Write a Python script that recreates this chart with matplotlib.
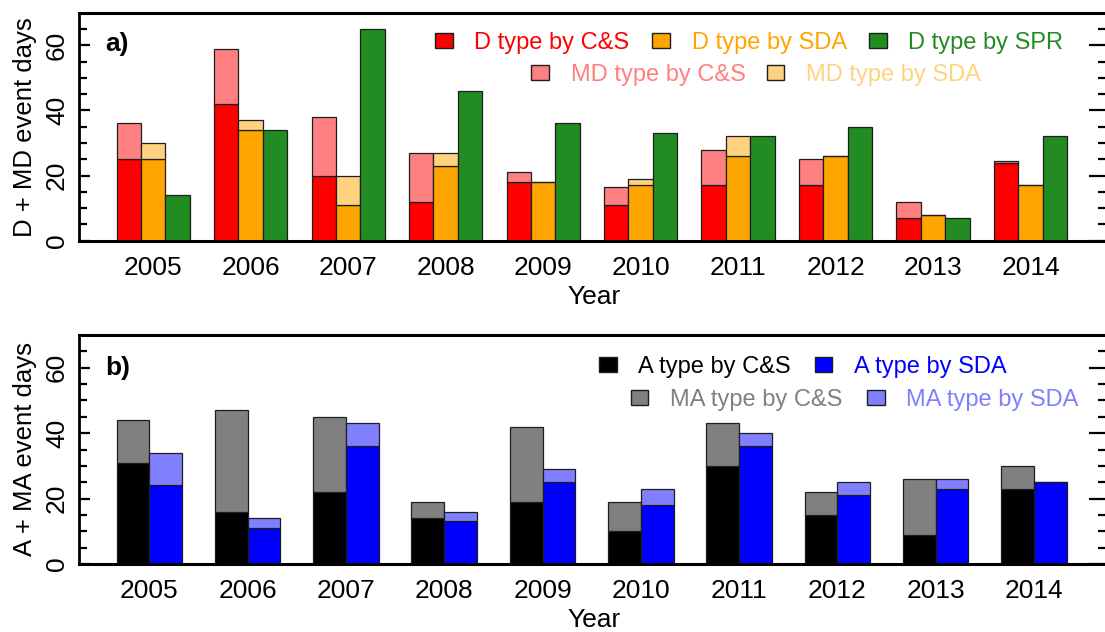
import matplotlib
matplotlib.use('Agg')
import matplotlib.pyplot as plt
from matplotlib.patches import Rectangle
from matplotlib.ticker import FixedLocator
import numpy as np

plt.rcParams['font.family'] = ['Liberation Sans', 'DejaVu Sans']

# ---------------- data ----------------
years = ['2005', '2006', '2007', '2008', '2009', '2010', '2011', '2012', '2013', '2014']

# panel a: D-type and MD-type event days
D_CS = [25, 42, 20, 12, 18, 11, 17, 17, 7, 24]
MD_CS = [11, 17, 18, 15, 3, 5.5, 11, 8, 5, 0.6]
D_SDA = [25, 34, 11, 23, 18, 17, 26, 26, 8, 17]
MD_SDA = [5, 3, 9, 4, 0, 2, 6, 0, 0, 0]
D_SPR = [14, 34, 65, 46, 36, 33, 32, 35, 7, 32]

# panel b: A-type and MA-type event days
A_CS = [31, 16, 22, 14, 19, 10, 30, 15, 9, 23]
MA_CS = [13, 31, 23, 5, 23, 9, 13, 7, 17, 7]
A_SDA = [24, 11, 36, 13, 25, 18, 36, 21, 23, 25]
MA_SDA = [10, 3, 7, 3, 4, 5, 4, 4, 3, 0]

yticks_major = [0, 20, 40, 60]
yticks_minor = [5, 10, 15, 25, 30, 35, 45, 50, 55, 65]

# ---------------- style ----------------
RED, PINK = '#FF0000', '#FF8080'
ORANGE, LORANGE = '#FFA500', '#FFD280'
GREEN = '#228B22'
BLACK, GRAY = '#000000', '#808080'
BLUE, LBLUE = '#0000FF', '#8080FF'
EDGE = '#1e1e1e'
FS = 19
LFS = 17

W, H = 1105, 632
fig = plt.figure(figsize=(W / 100, H / 100), dpi=100)


def px_rect(left, top, right, bottom):
    return [left / W, 1 - bottom / H, (right - left) / W, (bottom - top) / H]


axA = fig.add_axes(px_rect(78.6, 12.7, 1106, 240.7))
axB = fig.add_axes(px_rect(78.6, 335, 1106, 564))


def style(ax, xlim, ylabel, xl_y):
    ax.set_xlim(*xlim)
    ax.set_ylim(0, 70)
    ax.spines['right'].set_visible(False)
    ax.spines['top'].set_linewidth(2.2)
    ax.spines['bottom'].set_linewidth(2.2)
    ax.spines['left'].set_linewidth(2.0)
    ax.yaxis.set_major_locator(FixedLocator(yticks_major))
    ax.yaxis.set_minor_locator(FixedLocator(yticks_minor))
    ax.tick_params(axis='y', which='major', direction='in', length=8, width=1.6,
                   left=True, right=False, labelsize=FS, pad=7, labelrotation=90)
    ax.tick_params(axis='y', which='minor', direction='in', length=6, width=1.6,
                   left=True, right=False)
    ax.tick_params(axis='x', length=0, labelsize=FS, pad=11)
    plt.setp(ax.get_yticklabels(), va='center')
    ax.set_ylabel(ylabel, fontsize=18.5, va='center')
    ax.yaxis.set_label_coords(-0.0524, 0.5)
    ax.set_xlabel('Year', fontsize=FS, va='center')
    ax.xaxis.set_label_coords(0.5018, xl_y)
    # right-hand inward ticks (longer majors)
    tw = ax.twinx()
    tw.set_ylim(0, 70)
    for s in tw.spines.values():
        s.set_visible(False)
    tw.yaxis.set_major_locator(FixedLocator(yticks_major))
    tw.yaxis.set_minor_locator(FixedLocator(yticks_minor))
    tw.tick_params(axis='y', which='major', direction='in', length=12.5, width=1.6,
                   left=False, right=True, labelright=False)
    tw.tick_params(axis='y', which='minor', direction='in', length=5.5, width=1.6,
                   left=False, right=True)


# ---------------- panel a ----------------
n = len(years)
gA = np.arange(n) * 4 + 1
kw = dict(width=1, align='edge', edgecolor=EDGE, linewidth=0.9)
axA.bar(gA, D_CS, color=RED, **kw)
axA.bar(gA, MD_CS, bottom=D_CS, color=PINK, **kw)
axA.bar(gA + 1, D_SDA, color=ORANGE, **kw)
axA.bar(gA + 1, MD_SDA, bottom=D_SDA, color=LORANGE, **kw)
axA.bar(gA + 2, D_SPR, color=GREEN, **kw)
axA.set_xticks(gA + 1.5)
axA.set_xticklabels(years)
style(axA, (-0.56, 41.6), 'D + MD event days', -0.247)

# ---------------- panel b ----------------
gB = np.arange(n) * 3 + 1
axB.bar(gB, A_CS, color=BLACK, **kw)
axB.bar(gB, MA_CS, bottom=A_CS, color=GRAY, **kw)
axB.bar(gB + 1, A_SDA, color=BLUE, **kw)
axB.bar(gB + 1, MA_SDA, bottom=A_SDA, color=LBLUE, **kw)
axB.set_xticks(gB + 1.0)
axB.set_xticklabels(years)
style(axB, (-0.16, 31.2), 'A + MA event days', -0.2445)

# panel letters
fig.text(105 / W, 1 - 43.5 / H, 'a)', ha='left', va='center', fontsize=FS, weight='bold')
fig.text(105 / W, 1 - 368.5 / H, 'b)', ha='left', va='center', fontsize=FS, weight='bold')


# ---------------- legends ----------------
def leg_item(x_left, baseline, color, label):
    sw, sh = 17.5, 15
    fig.add_artist(Rectangle((x_left / W, 1 - (baseline - 1) / H), sw / W, sh / H,
                             transform=fig.transFigure, facecolor=color,
                             edgecolor=EDGE, linewidth=1.0))
    fig.text((x_left + sw + 22) / W, 1 - baseline / H, label, color=color,
             fontsize=LFS, ha='left', va='baseline')


leg_item(435, 49, RED, 'D type by C&S')
leg_item(652, 49, ORANGE, 'D type by SDA')
leg_item(869, 49, GREEN, 'D type by SPR')
leg_item(531, 81, PINK, 'MD type by C&S')
leg_item(767, 81, LORANGE, 'MD type by SDA')

leg_item(599, 373, BLACK, 'A type by C&S')
leg_item(815, 373, BLUE, 'A type by SDA')
leg_item(631, 406, GRAY, 'MA type by C&S')
leg_item(867, 406, LBLUE, 'MA type by SDA')

fig.savefig('out.png', dpi=100)
